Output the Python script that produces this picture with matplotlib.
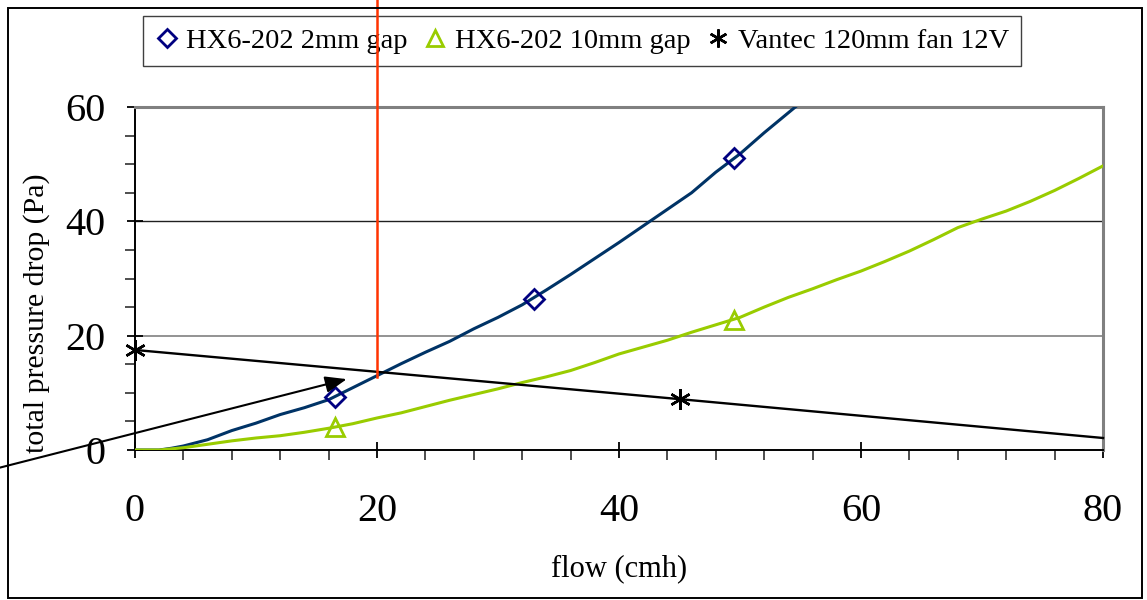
import matplotlib
matplotlib.use("Agg")
import matplotlib.pyplot as plt
from matplotlib.lines import Line2D
from matplotlib.patches import Rectangle

# ---- data ----
flow = [0, 2, 3, 4, 6, 8, 10, 12, 14, 16, 18, 20, 22, 24, 26, 28, 30, 32, 34, 36,
        38, 40, 42, 44, 46, 48, 50, 52, 54, 56]
dp_2mm = [0, 0, 0.3, 0.7, 1.8, 3.4, 4.7, 6.2, 7.4, 8.8, 10.9, 13.0, 15.1, 17.1, 19.0,
          21.2, 23.2, 25.4, 28.0, 30.7, 33.5, 36.3, 39.2, 42.1, 45.0, 48.6, 51.8,
          55.5, 59.0, 62.5]

flow_10 = [0, 2, 4, 6, 8, 10, 12, 14, 16, 18, 20, 22, 24, 26, 28, 30, 32, 34, 36, 38,
           40, 42, 44, 46, 48, 50, 52, 54, 56, 58, 60, 62, 64, 66, 68, 70, 72, 74, 76,
           78, 80]
dp_10mm = [0, 0, 0.4, 1.0, 1.6, 2.1, 2.5, 3.1, 3.8, 4.6, 5.6, 6.5, 7.6, 8.7, 9.7,
           10.7, 11.8, 12.8, 13.9, 15.3, 16.8, 18.0, 19.2, 20.6, 21.9, 23.2, 25.0,
           26.7, 28.2, 29.8, 31.3, 33.0, 34.8, 36.8, 38.9, 40.4, 41.8, 43.5, 45.4,
           47.5, 49.7]

marker_flow_2mm = [16.5, 33.0, 49.5]
marker_dp_2mm = [9.3, 26.5, 51.0]
marker_flow_10mm = [16.5, 49.5]
marker_dp_10mm = [4.1, 22.7]

fan_flow = [0, 45, 80]
fan_dp = [17.5, 8.9, 2.1]

op_flow = [20, 20]          # operating-point vertical marker
op_dp = [12.7, 78.7]
arrow_start = (-11.2, -3.1)
arrow_end = (17.5, 12.4)

labels = ["HX6-202 2mm gap", "HX6-202 10mm gap", "Vantec 120mm fan 12V"]
xticks = [0, 20, 40, 60, 80]
yticks = [0, 20, 40, 60]

# ---- style ----
plt.rcParams['font.family'] = ['Liberation Serif', 'DejaVu Serif']
BLUE_LINE = '#003366'
BLUE_MK = '#000080'
GREEN = '#99CC00'
RED = '#FF3300'
ASTER = (6, 2, 0)

W, H = 1147, 600
fig = plt.figure(figsize=(W / 100, H / 100), dpi=100)
ax = fig.add_axes([135 / W, 1 - 450 / H, (1103 - 135) / W, (450 - 107) / H])

ax.set_xlim(0, 80)
ax.set_ylim(0, 60)

ax.axhline(20, color='#808080', lw=1.2, zorder=1)
ax.axhline(40, color='#202020', lw=1.0, zorder=1)

ax.plot(flow, dp_2mm, color=BLUE_LINE, lw=2.2, zorder=3)
ax.plot(marker_flow_2mm, marker_dp_2mm, ls='none', marker='D', ms=10.5,
        mfc='none', mec=BLUE_MK, mew=2.0, zorder=4)
ax.plot(flow_10, dp_10mm, color=GREEN, lw=2.2, zorder=3)
ax.plot(marker_flow_10mm, marker_dp_10mm, ls='none', marker='^', ms=13,
        mfc='none', mec=GREEN, mew=2.0, zorder=4)
ax.plot(fan_flow, fan_dp, color='black', lw=1.7, marker=ASTER, ms=15, mew=1.8,
        markevery=[0, 1], zorder=4, clip_on=False)

ax.plot(op_flow, op_dp, color=RED, lw=1.8, zorder=10, clip_on=False)
ax.annotate('', xy=arrow_end, xytext=arrow_start, xycoords='data',
            arrowprops=dict(arrowstyle='-|>,head_length=1.3,head_width=0.5',
                            color='black', lw=1.5, shrinkA=0, shrinkB=0),
            annotation_clip=False, zorder=6)

ax.set_xticks(xticks)
ax.set_yticks(yticks)
ax.set_xticks(range(0, 81, 4), minor=True)
ax.set_yticks(range(0, 61, 5), minor=True)
ax.tick_params(axis='both', which='major', direction='inout', length=12, width=1.3,
               labelsize=29, color='black')
ax.tick_params(axis='both', which='minor', direction='out', length=7, width=1.3,
               color='#404040')
ax.tick_params(axis='x', which='major', pad=25)
ax.tick_params(axis='y', which='major', pad=15)

for s in ['top', 'right']:
    ax.spines[s].set_color('#808080')
    ax.spines[s].set_linewidth(2.2)
for s in ['left', 'bottom']:
    ax.spines[s].set_color('black')
    ax.spines[s].set_linewidth(1.4)

ax.set_xlabel('flow (cmh)', fontsize=22, va='top')
ax.xaxis.set_label_coords(0.5, -0.305)
ax.set_ylabel('total pressure drop (Pa)', fontsize=21.5, va='center')
ax.yaxis.set_label_coords(-0.102, 0.399)

handles = [
    Line2D([], [], ls='none', marker='D', ms=9.5, mfc='none', mec=BLUE_MK, mew=2.0),
    Line2D([], [], ls='none', marker='^', ms=12, mfc='none', mec=GREEN, mew=2.0),
    Line2D([], [], ls='none', marker=ASTER, ms=13, mec='black', mew=1.8),
]
leg = ax.legend(handles, labels, loc='center', ncol=3,
                bbox_to_anchor=(582 / W, 1 - 41 / H), bbox_transform=fig.transFigure,
                fontsize=20.5, frameon=True, fancybox=False, framealpha=1,
                edgecolor='#404040', handlelength=0.8, handletextpad=0.3,
                columnspacing=0.55, borderpad=0.42)
leg.get_frame().set_linewidth(1.0)
leg.set_zorder(5)

fig.patches.append(Rectangle((8 / W, 2 / H), (1142 - 8) / W, (598 - 6 - 2) / H,
                             transform=fig.transFigure, fill=False,
                             edgecolor='black', lw=1.4, zorder=0))

fig.savefig('out.png', dpi=100)
